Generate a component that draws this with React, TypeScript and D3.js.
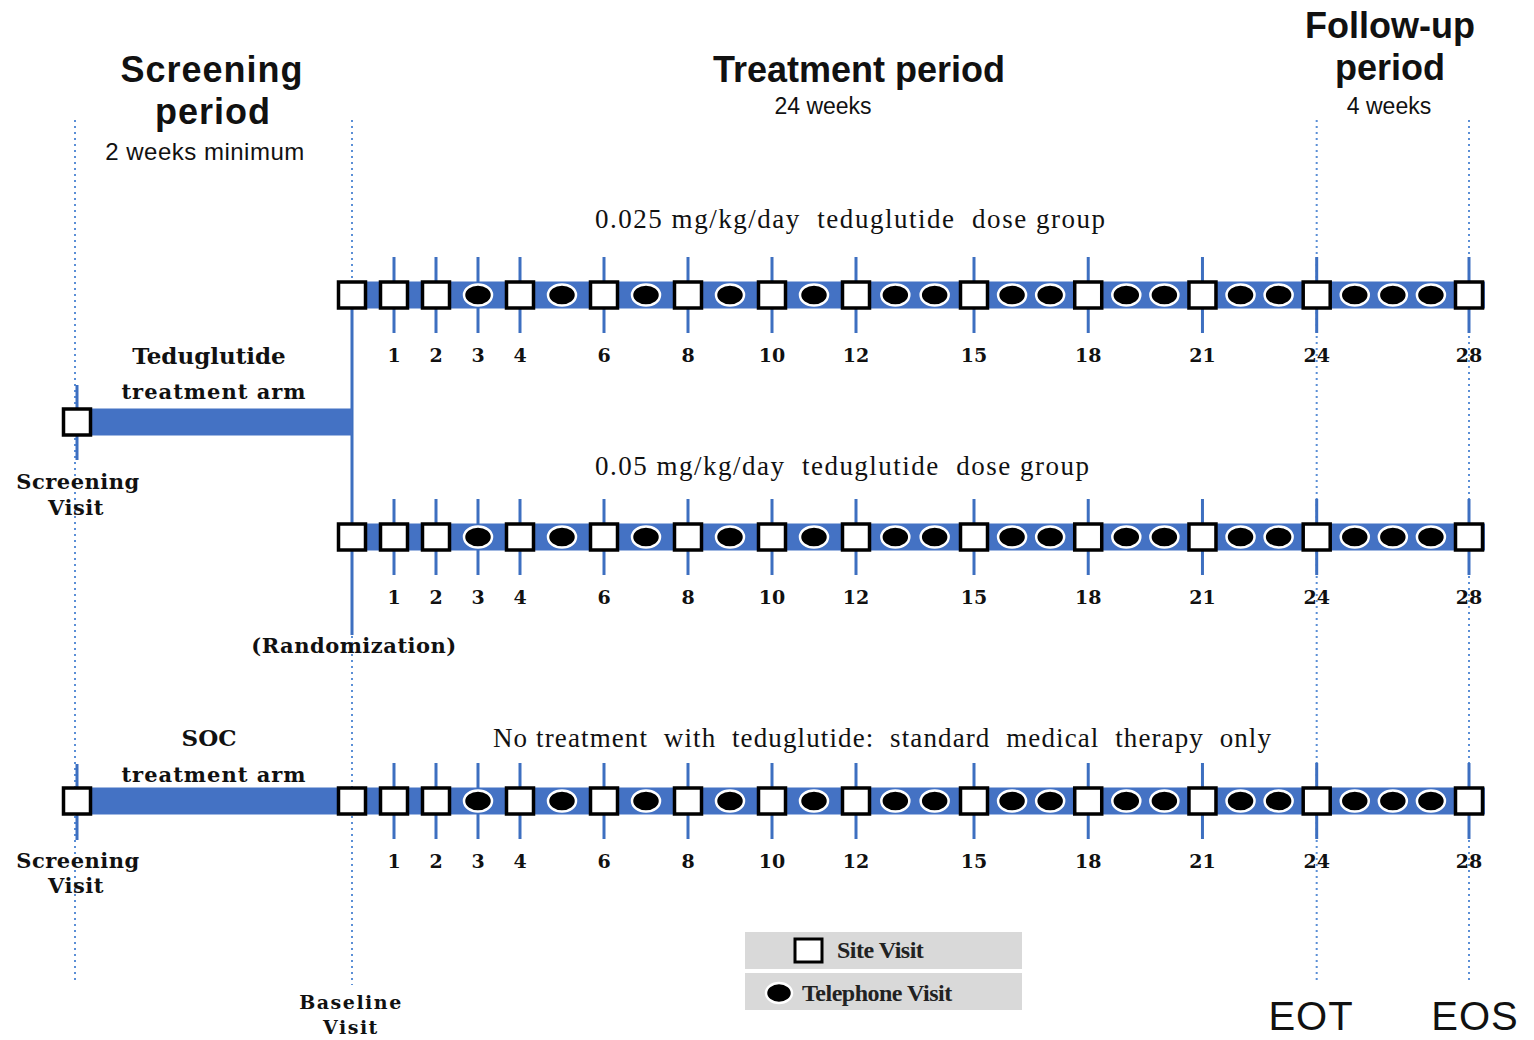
import React, { useEffect } from "react";
import * as d3 from "d3";

// visit schedule (week -> visit type), same for every arm
const visitWeeks = [0, 1, 2, 3, 4, 5, 6, 7, 8, 9, 10, 11, 12, 13, 14, 15, 16, 17, 18, 19, 20, 21, 22, 23, 24, 25, 26, 27, 28];
const visitTypes = [
  "site", "site", "site", "phone", "site", "phone", "site", "phone", "site", "phone",
  "site", "phone", "site", "phone", "phone", "site", "phone", "phone", "site", "phone",
  "phone", "site", "phone", "phone", "site", "phone", "phone", "phone", "site",
];
const labeledWeeks = [1, 2, 3, 4, 6, 8, 10, 12, 15, 18, 21, 24, 28];

const armLabels = [
  "0.025 mg/kg/day  teduglutide  dose group",
  "0.05 mg/kg/day  teduglutide  dose group",
  "No treatment  with  teduglutide:  standard  medical  therapy  only",
];
const armLabelWidths = [510, 494, 778];

const periodHeaders = [
  { lines: ["Screening", "period"], sub: "2 weeks minimum" },
  { lines: ["Treatment period"], sub: "24 weeks" },
  { lines: ["Follow-up", "period"], sub: "4 weeks" },
];
const milestoneLabels = ["EOT", "EOS"];
const milestoneWeeks = [24, 28];
const legendItems = [
  { type: "site", label: "Site Visit" },
  { type: "phone", label: "Telephone Visit" },
];

const W = 1534;
const H = 1040;
const BAR = "#4472c4";
const TICK = "#3d6fc0";
const DOT = "#5b8fd6";
const SERIF = "'DejaVu Serif', serif";
const SANS = "'Liberation Sans', Arial, sans-serif";

const App = () => {
  useEffect(() => {
    document.body.style.margin = "0";
  }, []);

  const x = d3.scaleLinear().domain([0, 12, 15, 28]).range([352, 856, 974, 1469]);
  const screeningX = 77;
  const rowY = [295, 537, 801];
  const labelY = [228, 475, 747];
  const preArmY = 422;
  const barH = 27;

  const marker = (type: string, cx: number, cy: number, key: string | number) =>
    type === "site" ? (
      <rect key={key} x={cx - 13.5} y={cy - 13} width={27} height={26}
        fill="#fff" stroke="#000" strokeWidth={3.5} />
    ) : (
      <ellipse key={key} cx={cx} cy={cy} rx={14} ry={10.5}
        fill="#000" stroke="#fff" strokeWidth={2.5} />
    );

  const dotted = (xx: number, y1: number, y2: number, key: string) => (
    <line key={key} x1={xx} x2={xx} y1={y1} y2={y2} stroke={DOT}
      strokeWidth={2} strokeDasharray="2,4" />
  );

  return (
    <div style={{ position: "absolute", left: 0, top: 0 }}>
      <svg width={W} height={H} style={{ display: "block", background: "#fff" }}>
        {/* dotted period boundaries */}
        {dotted(75, 120, 980, "d-scr")}
        {dotted(x(0), 120, 985, "d-base")}
        {milestoneWeeks.map((w) => dotted(x(w), 120, 980, "d-" + w))}

        {/* period headers */}
        <g fontFamily={SANS} fill="#111" textAnchor="middle">
          <text x={212} y={82} fontSize={36} fontWeight="bold" letterSpacing={1}>{periodHeaders[0].lines[0]}</text>
          <text x={213} y={124} fontSize={36} fontWeight="bold" letterSpacing={1}>{periodHeaders[0].lines[1]}</text>
          <text x={205} y={160} fontSize={24} letterSpacing={0.5}>{periodHeaders[0].sub}</text>
          <text x={859} y={82} fontSize={36} fontWeight="bold">{periodHeaders[1].lines[0]}</text>
          <text x={823} y={114} fontSize={23}>{periodHeaders[1].sub}</text>
          <text x={1390} y={38} fontSize={36} fontWeight="bold">{periodHeaders[2].lines[0]}</text>
          <text x={1390} y={80} fontSize={36} fontWeight="bold">{periodHeaders[2].lines[1]}</text>
          <text x={1389} y={114} fontSize={23}>{periodHeaders[2].sub}</text>
        </g>

        {/* randomization line */}
        <line x1={x(0)} x2={x(0)} y1={rowY[0]} y2={635} stroke={TICK} strokeWidth={3} />

        {/* pre-randomization teduglutide arm */}
        <rect x={screeningX} y={preArmY - barH / 2} width={x(0) - screeningX} height={barH} fill={BAR} />
        <line x1={screeningX} x2={screeningX} y1={385} y2={460} stroke={TICK} strokeWidth={3} />
        {marker("site", screeningX, preArmY, "pre-scr")}

        {rowY.map((cy, ri) => {
          const x0 = ri === 2 ? 62 : 337;
          return (
            <g key={"row" + ri}>
              <text x={[850, 842, 882][ri]} y={labelY[ri]} textAnchor="middle"
                fontFamily="'Liberation Serif', serif" fontSize={27} fill="#111"
                textLength={armLabelWidths[ri]} lengthAdjust="spacing"
                style={{ whiteSpace: "pre" }}>
                {armLabels[ri]}
              </text>
              <rect x={x0} y={cy - barH / 2} width={1485 - x0} height={barH} fill={BAR} />
              {labeledWeeks.map((w) => (
                <line key={"t" + w} x1={x(w)} x2={x(w)} y1={cy - 38} y2={cy + 38}
                  stroke={TICK} strokeWidth={3} />
              ))}
              {ri === 2 && (
                <line x1={screeningX} x2={screeningX} y1={cy - 37} y2={cy + 39} stroke={TICK} strokeWidth={3} />
              )}
              {ri === 2 && marker("site", screeningX, cy, "scr")}
              {visitWeeks.map((w, i) => marker(visitTypes[i], x(w), cy, "m" + w))}
              {labeledWeeks.map((w) => (
                <text key={"l" + w} x={x(w)} y={cy + 67} textAnchor="middle"
                  fontFamily={SERIF} fontWeight="bold" fontSize={19} fill="#111">
                  {w}
                </text>
              ))}
            </g>
          );
        })}

        {/* arm labels */}
        <g fontFamily={SERIF} fontWeight="bold" fill="#111" textAnchor="middle">
          <text x={209} y={364} fontSize={23}>Teduglutide</text>
          <text x={214} y={399} fontSize={21} letterSpacing={1}>treatment  arm</text>
          <text x={78} y={489} fontSize={21} letterSpacing={0.5}>Screening</text>
          <text x={76} y={515} fontSize={21} letterSpacing={0.5}>Visit</text>
          <text x={354} y={653} fontSize={21} letterSpacing={0.5}>(Randomization)</text>
          <text x={209} y={746} fontSize={23}>SOC</text>
          <text x={214} y={782} fontSize={21} letterSpacing={1}>treatment  arm</text>
          <text x={78} y={868} fontSize={21} letterSpacing={0.5}>Screening</text>
          <text x={76} y={893} fontSize={21} letterSpacing={0.5}>Visit</text>
          <text x={351} y={1009} fontSize={19} letterSpacing={1.5}>Baseline</text>
          <text x={351} y={1034} fontSize={19} letterSpacing={1.5}>Visit</text>
        </g>

        {/* legend */}
        {legendItems.map((it, i) => (
          <g key={it.label}>
            <rect x={745} y={932 + i * 41} width={277} height={37} fill="#d9d9d9" />
            {it.type === "site"
              ? <rect x={795} y={939} width={27} height={23} fill="#fff" stroke="#000" strokeWidth={3} />
              : <ellipse cx={779} cy={993} rx={13} ry={10} fill="#000" stroke="#fff" strokeWidth={2.5} />}
            <text x={it.type === "site" ? 837 : 802} y={958 + i * 43}
              fontFamily="'Liberation Serif', serif" fontWeight="bold" fontSize={24} fill="#222"
              letterSpacing={-0.5}>
              {it.label}
            </text>
          </g>
        ))}

        {/* EOT / EOS */}
        {milestoneLabels.map((m, i) => (
          <text key={m} x={[1311, 1475][i]} y={1030} textAnchor="middle"
            fontFamily={SANS} fontSize={40} fill="#111" letterSpacing={1}>
            {m}
          </text>
        ))}
      </svg>
    </div>
  );
};

export default App;
